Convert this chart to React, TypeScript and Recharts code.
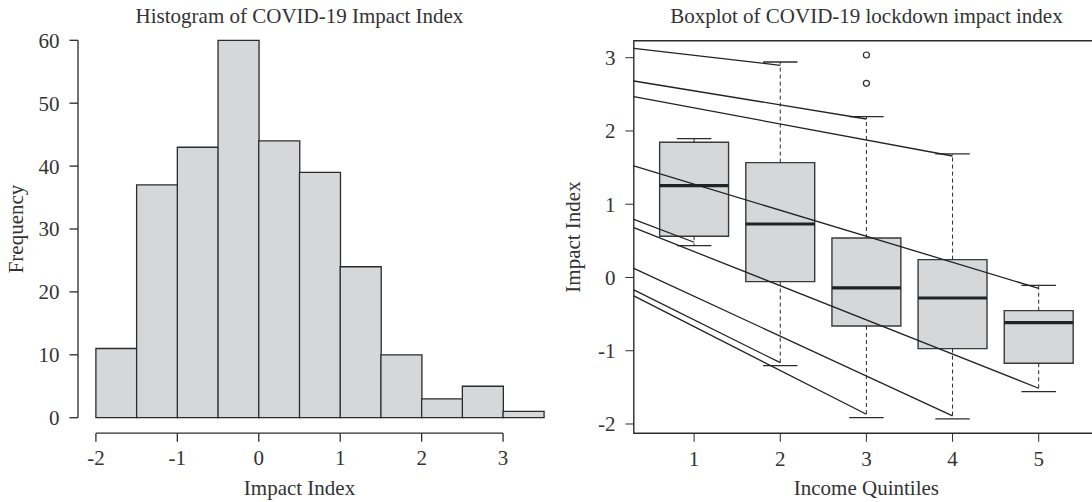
import {
  ComposedChart,
  Bar,
  XAxis,
  YAxis,
  ReferenceLine,
  ReferenceArea,
  Scatter,
} from 'recharts'

// histogram: bin starts (bins are 0.5 wide) and counts
const binStarts = [-2, -1.5, -1, -0.5, 0, 0.5, 1, 1.5, 2, 2.5, 3]
const histCounts = [11, 37, 43, 60, 44, 39, 24, 10, 3, 5, 1]
const histYTicks = [0, 10, 20, 30, 40, 50, 60]

// boxplot by income quintile
const quintiles = [1, 2, 3, 4, 5]
const q1s = [0.562, -0.057, -0.662, -0.971, -1.171]
const medians = [1.254, 0.73, -0.143, -0.28, -0.616]
const q3s = [1.845, 1.568, 0.539, 0.244, -0.453]
const capLow = [0.435, -1.203, -1.913, -1.931, -1.558]
const capHigh = [1.895, 2.941, 2.195, 1.686, -0.107]
const outliers = [
  { x: 3, y: 3.037 },
  { x: 3, y: 2.65 },
]

// stray whisker strokes running in from the left edge
const strokeStartY = [3.128, 2.682, 2.468, 1.522, 0.794, 0.68, 0.125, -0.17, -0.252]
const strokeEndX = [2, 3, 4, 5, 1, 5, 4, 2, 3]
const strokeEndY = [2.896, 2.163, 1.658, -0.148, 0.481, -1.512, -1.89, -1.163, -1.867]

const boxYTicks = [-2, -1, 0, 1, 2, 3]

const INK = '#2b2b2b'
const FILL = '#d6d7d9'
const FONT = '"Liberation Serif", "Times New Roman", serif'
const tickStyle = { fontSize: 21, fill: '#333', fontFamily: FONT }

const histData = binStarts.map((start, i) => ({ bin: String(start), count: histCounts[i] }))

// R style x axis for the histogram: ticks on bin edges at whole numbers,
// drawn a little below the plot, axis line only between first and last tick
function HistTick(props: any) {
  const { x, y, payload, index } = props
  if (index % 2 !== 0) return null
  const half = payload && payload.offset ? payload.offset : 20.36
  const left = x - half
  const axisY = y + 15.5
  const last = index >= binStarts.length - 1
  return (
    <g>
      {!last && <line x1={left} y1={axisY} x2={left + 4 * half} y2={axisY} stroke={INK} strokeWidth={1.3} />}
      <line x1={left} y1={axisY} x2={left} y2={axisY + 8.5} stroke={INK} strokeWidth={1.3} />
      <text
        x={left}
        y={axisY + 32}
        textAnchor="middle"
        style={{ fontSize: 21, fill: '#333', fontFamily: FONT }}
      >
        {binStarts[index]}
      </text>
    </g>
  )
}

function Histogram() {
  return (
    <ComposedChart
      width={600}
      height={502}
      data={histData}
      margin={{ top: 40.3, right: 38.3, bottom: 0, left: 0 }}
      barCategoryGap={0}
      barGap={0}
    >
      <XAxis
        dataKey="bin"
        type="category"
        interval={0}
        padding={{ left: 17.9, right: 17.9 }}
        height={84.3}
        axisLine={false}
        tickLine={false}
        tickSize={0}
        tickMargin={0}
        tick={<HistTick />}
      />
      <YAxis
        type="number"
        domain={[0, 60]}
        ticks={histYTicks}
        width={78}
        axisLine={{ stroke: INK, strokeWidth: 1.3 }}
        tickSize={8.5}
        tickMargin={10}
        tickLine={{ stroke: INK, strokeWidth: 1.3 }}
        tick={tickStyle}
      />
      <Bar dataKey="count" fill={FILL} stroke={INK} strokeWidth={1.3} isAnimationActive={false} />
    </ComposedChart>
  )
}

function Boxplot() {
  return (
    <ComposedChart width={560} height={502} margin={{ top: 40.7, right: 7, bottom: 0, left: 0 }}>
      <XAxis
        type="number"
        dataKey="x"
        domain={[0.3, 5.7]}
        ticks={quintiles}
        allowDataOverflow
        height={68.7}
        axisLine={false}
        tickSize={8.5}
        tickMargin={9}
        tickLine={{ stroke: INK }}
        tick={tickStyle}
      />
      <YAxis
        type="number"
        dataKey="y"
        domain={[-2.127, 3.232]}
        ticks={boxYTicks}
        allowDataOverflow
        width={87.8}
        axisLine={false}
        tickSize={8.4}
        tickMargin={10}
        tickLine={{ stroke: INK }}
        tick={tickStyle}
      />
      <ReferenceArea
        x1={0.3}
        x2={5.7}
        y1={-2.127}
        y2={3.232}
        fill="none"
        stroke={INK}
        strokeWidth={1.4}
        ifOverflow="visible"
      />
      {quintiles.map((q, i) => (
        <ReferenceArea
          key={'box' + q}
          x1={q - 0.4}
          x2={q + 0.4}
          y1={q1s[i]}
          y2={q3s[i]}
          fill={FILL}
          fillOpacity={1}
          stroke="#3a3a3a"
          strokeWidth={1.4}
        />
      ))}
      {quintiles.map((q, i) => (
        <ReferenceLine
          key={'wu' + q}
          segment={[
            { x: q, y: q3s[i] },
            { x: q, y: capHigh[i] },
          ]}
          stroke={INK}
          strokeDasharray="4 3"
        />
      ))}
      {quintiles.map((q, i) => (
        <ReferenceLine
          key={'wl' + q}
          segment={[
            { x: q, y: q1s[i] },
            { x: q, y: capLow[i] },
          ]}
          stroke={INK}
          strokeDasharray="4 3"
        />
      ))}
      {quintiles.map((q, i) => (
        <ReferenceLine
          key={'ch' + q}
          segment={[
            { x: q - 0.2, y: capHigh[i] },
            { x: q + 0.2, y: capHigh[i] },
          ]}
          stroke={INK}
          strokeWidth={1.3}
        />
      ))}
      {quintiles.map((q, i) => (
        <ReferenceLine
          key={'cl' + q}
          segment={[
            { x: q - 0.2, y: capLow[i] },
            { x: q + 0.2, y: capLow[i] },
          ]}
          stroke={INK}
          strokeWidth={1.3}
        />
      ))}
      {quintiles.map((q, i) => (
        <ReferenceLine
          key={'md' + q}
          segment={[
            { x: q - 0.4, y: medians[i] },
            { x: q + 0.4, y: medians[i] },
          ]}
          stroke="#222"
          strokeWidth={3.2}
        />
      ))}
      {strokeStartY.map((y0, i) => (
        <ReferenceLine
          key={'sk' + i}
          segment={[
            { x: 0.3, y: y0 },
            { x: strokeEndX[i], y: strokeEndY[i] },
          ]}
          stroke="#222"
          strokeWidth={1.3}
        />
      ))}
      <Scatter
        data={outliers}
        dataKey="y"
        isAnimationActive={false}
        shape={(p: any) => <circle cx={p.cx} cy={p.cy} r={3} fill="none" stroke={INK} strokeWidth={1.2} />}
      />
    </ComposedChart>
  )
}

const label = { fontFamily: FONT, fontSize: 21, fill: '#333' }

export default function App() {
  return (
    <div
      style={{
        position: 'absolute',
        left: 0,
        top: 0,
        width: 1092,
        height: 502,
        overflow: 'hidden',
        background: '#fff',
      }}
    >
      <div style={{ position: 'absolute', left: 0, top: 0 }}>
        <Histogram />
      </div>
      <div style={{ position: 'absolute', left: 546, top: 0 }}>
        <Boxplot />
      </div>
      <svg
        width={1092}
        height={502}
        style={{ position: 'absolute', left: 0, top: 0, pointerEvents: 'none' }}
      >
        <text x={299.5} y={23} textAnchor="middle" style={label}>
          Histogram of COVID-19 Impact Index
        </text>
        <text x={299.5} y={495} textAnchor="middle" style={label}>
          Impact Index
        </text>
        <text x={23} y={229} textAnchor="middle" transform="rotate(-90 23 229)" style={label}>
          Frequency
        </text>
        <text x={866.4} y={23} textAnchor="middle" style={label}>
          Boxplot of COVID-19 lockdown impact index
        </text>
        <text x={866.4} y={495} textAnchor="middle" style={label}>
          Income Quintiles
        </text>
        <text x={580} y={237} textAnchor="middle" transform="rotate(-90 580 237)" style={label}>
          Impact Index
        </text>
      </svg>
    </div>
  )
}
